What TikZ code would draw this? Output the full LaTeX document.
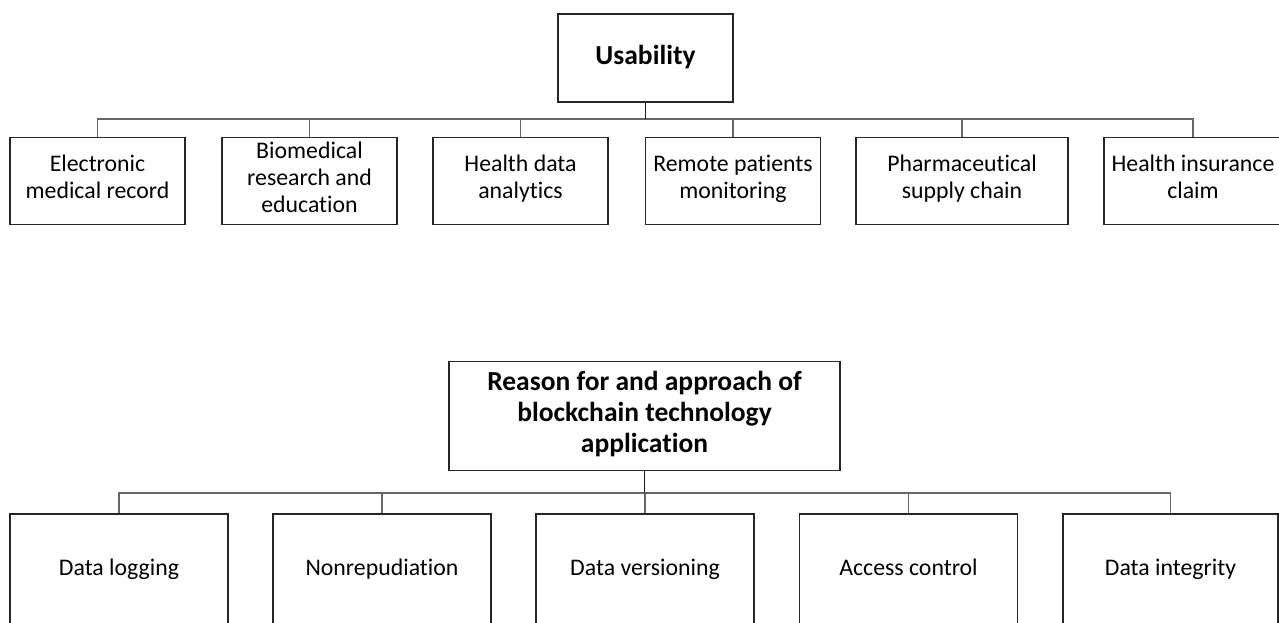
\documentclass[tikz,border=0pt]{standalone}
\usepackage{fontspec}
\setmainfont{Carlito}[Ligatures=CommonOff]
\begin{document}
\begin{tikzpicture}[x=1pt,y=-1pt,
  box/.style={draw=black!85,line width=1.2pt,inner sep=0pt,align=center,
    font=\fontsize{23.8}{27}\selectfont,
    execute at begin node={\strut}, execute at end node={\strut}},
  title/.style={box,font=\bfseries\fontsize{27.5}{31}\selectfont},
  leaf/.style={box,minimum height=87pt},
  leafb/.style={box,minimum height=112pt,minimum width=218pt},
  conn/.style={draw=black!60,line width=1.2pt},
  stem/.style={draw=black!90,line width=1.5pt}]
\useasboundingbox (0,0) rectangle (1279,622);
\clip (0,0) rectangle (1279,622);
% top tree
\node[title,minimum width=175pt,minimum height=88pt] (u) at (645.5,58) {Usability};
\node[leaf,minimum width=175pt] (c1) at (97.5,181) {Electronic\\medical record};
\node[leaf,minimum width=175pt] (c2) at (309.5,181) {Biomedical\\research and\\education};
\node[leaf,minimum width=175pt] (c3) at (520.5,181) {Health data\\analytics};
\node[leaf,minimum width=175pt] (c4) at (733,181) {Remote patients\\monitoring};
\node[leaf,minimum width=212pt] (c5) at (962,181) {Pharmaceutical\\supply chain};
\node[leaf,minimum width=178pt] (c6) at (1193,181) {Health insurance\\claim};
\coordinate (ubar) at (645.5,119);
\foreach \c in {c1,c2,c3,c4,c5,c6}{\draw[conn] (\c.north) |- (ubar);}
\draw[stem] (u.south) -- (ubar);
% bottom tree
\node[title,minimum width=391pt,minimum height=109pt] (r) at (644.5,416)
  {Reason for and approach of\\blockchain technology\\application};
\node[leafb] (b1) at (119,570) {Data logging};
\node[leafb] (b2) at (382,570) {Nonrepudiation};
\node[leafb] (b3) at (645,570) {Data versioning};
\node[leafb] (b4) at (908.5,570) {Access control};
\node[leafb,minimum width=215pt] (b5) at (1170.5,570) {Data integrity};
\coordinate (rbar) at (644.5,493);
\foreach \c in {b1,b2,b3,b4,b5}{\draw[conn] (\c.north) |- (rbar);}
\draw[stem] (r.south) -- (rbar);
\end{tikzpicture}
\end{document}
